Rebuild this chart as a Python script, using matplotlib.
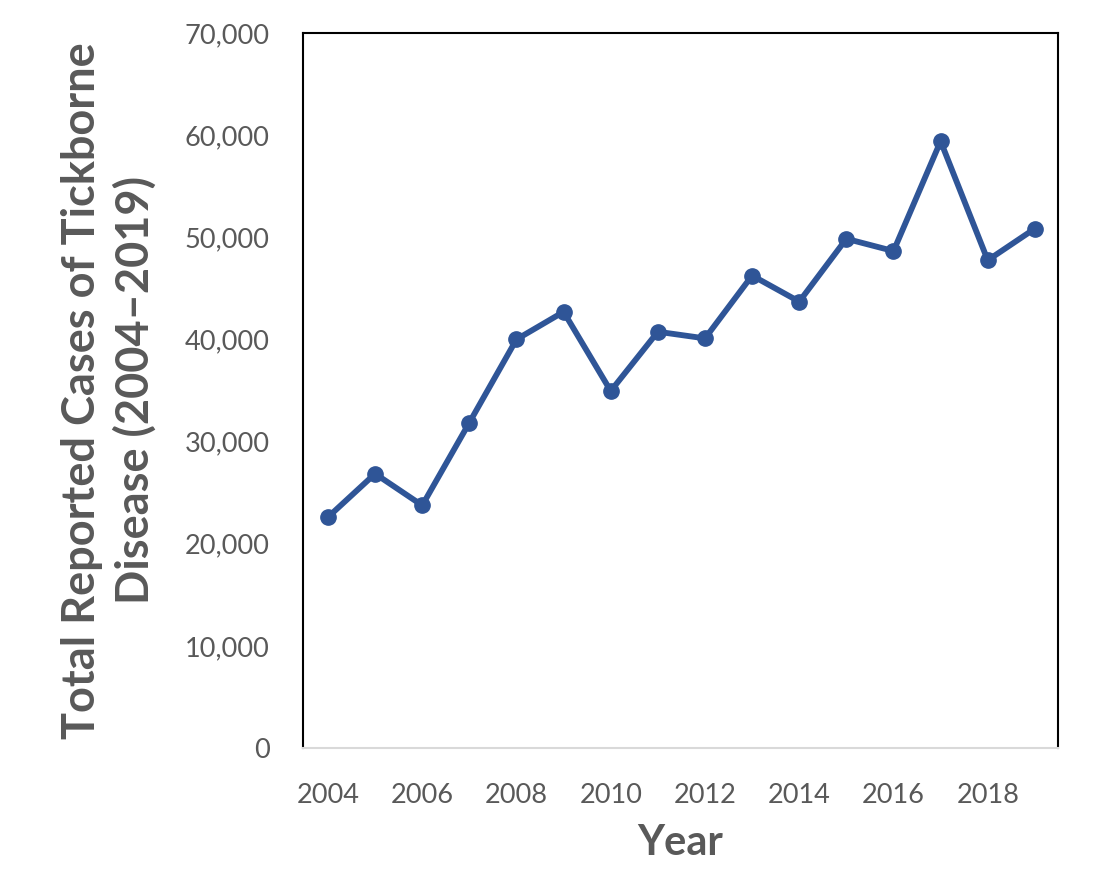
import numpy as np
import matplotlib
matplotlib.use('Agg')
import matplotlib.pyplot as plt
from matplotlib.ticker import FuncFormatter

years = [2004, 2005, 2006, 2007, 2008, 2009, 2010, 2011,
         2012, 2013, 2014, 2015, 2016, 2017, 2018, 2019]
cases = [22600, 26850, 23750, 31850, 40000, 42700, 34950, 40750,
         40100, 46250, 43700, 49850, 48650, 59400, 47750, 50850]
xticks = [2004, 2006, 2008, 2010, 2012, 2014, 2016, 2018]
yticks = [0, 10000, 20000, 30000, 40000, 50000, 60000, 70000]

plt.rcParams['font.family'] = ['Lato', 'DejaVu Sans']
grey = '#595959'

fig = plt.figure(figsize=(11.16, 8.96), dpi=100)
ax = fig.add_axes([0.2715, 0.1652, 0.948 - 0.2715, 0.9632 - 0.1652])

ax.plot(years, cases, color='#2F5597', linewidth=4.2, marker='o',
        markersize=11, solid_joinstyle='miter')

ax.set_xlim(2003.47, 2019.49)
ax.set_ylim(0, 70000)
ax.set_xticks(xticks)
ax.set_yticks(yticks)
ax.yaxis.set_major_formatter(FuncFormatter(lambda v, p: f'{int(v):,}'))
ax.tick_params(length=0, labelsize=19.5, labelcolor=grey)
ax.tick_params(axis='y', pad=24)
ax.tick_params(axis='x', pad=25)

for s in ['left', 'top', 'right']:
    ax.spines[s].set_color('black')
    ax.spines[s].set_linewidth(1.5)
ax.spines['bottom'].set_color('#D9D9D9')
ax.spines['bottom'].set_linewidth(1.5)

ax.set_xlabel('Year', fontsize=30, fontweight='bold', color=grey, labelpad=12)
ax.set_ylabel('Total Reported Cases of Tickborne\nDisease (2004\u20132019)',
              fontsize=32.5, fontweight='bold', color=grey, labelpad=20,
              linespacing=1.3)

fig.savefig('out.png', dpi=100)
